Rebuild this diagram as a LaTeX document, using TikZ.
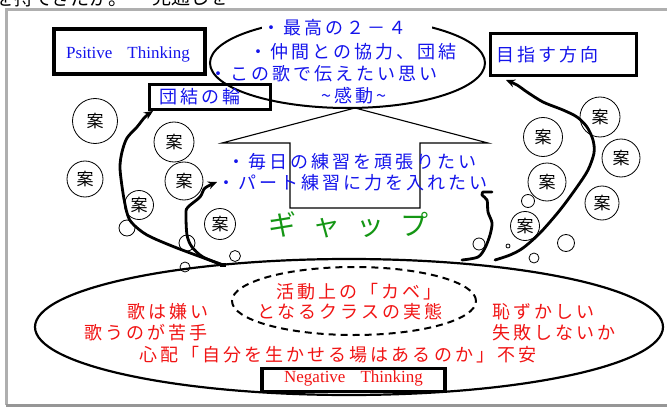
\documentclass[tikz,border=0pt]{standalone}
\usepackage{fontspec}
\setmainfont{Liberation Serif}
\newfontfamily\jp[LetterSpace=17]{Noto Sans CJK JP}
\newfontfamily\jpplain{Noto Sans CJK JP}
\newfontfamily\jpwide[LetterSpace=58]{Noto Sans CJK JP}
\usetikzlibrary{shapes.geometric,arrows.meta}
\definecolor{tblue}{RGB}{20,20,235}
\definecolor{tred}{RGB}{240,20,20}
\definecolor{tgreen}{RGB}{20,150,20}
\definecolor{fgray}{RGB}{175,175,175}
\definecolor{sgray}{RGB}{150,150,150}
\begin{document}
\begin{tikzpicture}[x=1pt,y=-1pt,
  thinkbox/.style={draw, line width=3.5pt, inner sep=0pt},
  bluetxt/.style={text=tblue, anchor=west, inner sep=0pt, font=\jp\fontsize{18}{18}\selectfont},
  redtxt/.style={text=tred, anchor=west, inner sep=0pt, font=\jp\fontsize{18}{18}\selectfont},
  idea/.style={circle, draw, line width=0.8pt, inner sep=0pt, font=\jpplain\fontsize{17}{17}\selectfont},
  bubble/.style={circle, draw, line width=0.8pt, inner sep=0pt},
  thickcurve/.style={line width=2.8pt, line cap=round, line join=round},
  tip/.style={-{Stealth[length=9pt,width=8pt]}}
]
\useasboundingbox (0,0) rectangle (667,412);

% frame
\draw[fgray, line width=3pt] (6,405) -- (6,10) -- (667,10);
\draw[sgray, line width=3pt] (6,405) -- (667,405);

% top clipped text
\begin{scope}
\clip (0,0) rectangle (667,8.5);
\node[anchor=west, inner sep=0pt, font=\jpplain\fontsize{19}{19}\selectfont] (toptxt) at (-5,-2) {を持てきたか。};
\node[anchor=west, inner sep=0pt, font=\jpplain\fontsize{19}{19}\selectfont] (toptxt2) at (152,-2) {見通しを・};
\end{scope}

% top ellipse
\node[ellipse, draw, line width=2pt, minimum width=275pt, minimum height=90pt, inner sep=0pt] (topell) at (347.5,63) {};
\fill[white] (262,12) rectangle (432,39);
\node[bluetxt] (t1) at (262,28) {・最高の２－４};
\node[bluetxt] (t2) at (249,52) {・仲間との協力、団結};
\node[bluetxt] (t3) at (209,74) {・この歌で伝えたい思い};
\node[bluetxt] (t4) at (321,96) {\textasciitilde 感動\textasciitilde};

% boxes
\node[thinkbox, minimum width=151pt, minimum height=45pt] (posbox) at (129.5,51.5) {};
\node[text=tblue, inner sep=0pt, font=\fontsize{17}{17}\selectfont] (postxt) at (128,54) {Psitive\hspace{15pt}Thinking};
\node[thinkbox, minimum width=121pt, minimum height=25pt] (danbox) at (210,97) {};
\node[bluetxt] (dantxt) at (159,97) {団結の輪};
\node[thinkbox, minimum width=146pt, minimum height=42pt] (mezabox) at (563.5,54.5) {};
\node[bluetxt] (mezatxt) at (496,55) {目指す方向};

% block arrow
\draw[line width=1.1pt, line join=miter] (355,108) -- (488,143) -- (420,143) -- (420,208) -- (290,208) -- (290,143) -- (222,143) -- cycle;
\node[bluetxt] (m1) at (227,162) {・毎日の練習を頑張りたい};
\node[bluetxt] (m2) at (217,183) {・パート練習に力を入れたい};
\node[text=tgreen, anchor=west, inner sep=0pt, font=\jpwide\fontsize{28}{28}\selectfont] (gap) at (268,225) {ギャップ};

% bottom ellipse
\node[ellipse, draw, line width=2.2pt, minimum width=628pt, minimum height=136pt, inner sep=0pt] (botell) at (349,327) {};
\node[ellipse, draw, line width=2pt, dash pattern=on 7pt off 5pt, minimum width=244pt, minimum height=68pt, inner sep=0pt] (wall) at (354,301) {};
\node[redtxt] (w1) at (276,292) {活動上の「カベ」};
\node[redtxt] (w2) at (257,312) {となるクラスの実態};
\node[redtxt] (r1) at (127,312) {歌は嫌い};
\node[redtxt] (r2) at (84,333) {歌うのが苦手};
\node[redtxt] (r3) at (139,355) {心配「自分を生かせる場はあるのか」不安};
\node[redtxt] (r4) at (492,312) {恥ずかしい};
\node[redtxt] (r5) at (492,333) {失敗しないか};
\node[thinkbox, minimum width=183pt, minimum height=23pt] (negbox) at (353.5,380) {};
\node[text=tred, inner sep=0pt, font=\fontsize{17}{17}\selectfont] (negtxt) at (353.5,378.5) {Negative\hspace{15pt}Thinking};

% idea circles
\node[idea, minimum size=45pt] (a1) at (95,121) {案};
\node[idea, minimum size=40pt] (a2) at (174,142) {案};
\node[idea, minimum size=36pt] (a3) at (85,179) {案};
\node[idea, minimum size=38pt] (a4) at (184,181) {案};
\node[idea, minimum size=29pt] (a5) at (139,205) {案};
\node[idea, minimum size=31pt] (a6) at (220,224) {案};
\node[idea, minimum size=40pt] (a7) at (600,117) {案};
\node[idea, minimum size=39pt] (a8) at (543,137) {案};
\node[idea, minimum size=38pt] (a9) at (621,158) {案};
\node[idea, minimum size=38pt] (a10) at (547,182) {案};
\node[idea, minimum size=34pt] (a11) at (602,203) {案};
\node[idea, minimum size=29pt] (a12) at (525,226) {案};

% small bubbles
\node[bubble, minimum size=16pt] (b1) at (127,228) {};
\node[bubble, minimum size=16pt] (b2) at (187,243) {};
\node[bubble, minimum size=11pt] (b3) at (235,256) {};
\node[bubble, minimum size=10pt] (b4) at (185,267) {};
\node[bubble, minimum size=13pt] (b5) at (528,201) {};
\node[bubble, minimum size=17pt] (b6) at (566,243) {};
\node[bubble, minimum size=12pt] (b7) at (479,244) {};
\node[bubble, minimum size=4pt] (b8) at (508,246) {};
\node[bubble, minimum size=10pt] (b9) at (534,258) {};

% curves
\coordinate (jL) at (223,265);
\coordinate (jR1) at (462,260);
\coordinate (jR2) at (495,260);
\coordinate (tipL1) at (153,111);
\coordinate (tipL2) at (217,182);
\coordinate (tipR) at (506,80);
\draw[thickcurve, tip] plot[smooth, tension=0.5] coordinates {(jL) (177,248) (147,235) (132,223) (127,213) (123,193) (120,168) (122,152) (127,138) (137,127) (145,117) (tipL1)};
\draw[thickcurve, tip] plot[smooth, tension=0.5] coordinates {(jL) (203,257) (192,247) (187,235) (186,213) (188,207) (200,197) (205,188) (tipL2)};
\draw[thickcurve] plot[smooth, tension=0.5] coordinates {(jR1) (478,257) (485,248) (490,235) (492,223) (488,212) (487,200) (482,195) (483,192)} -- (492,192);
\draw[thickcurve, tip] plot[smooth, tension=0.5] coordinates {(jR2) (510,255) (523,248) (540,233) (560,210) (577,187) (588,170) (594,153) (593,140) (587,127) (577,117) (563,110) (543,102) (527,92) (517,85) (tipR)};
\fill (jL) ++(-3,-2.5) rectangle ++(6,4);
\end{tikzpicture}
\end{document}
